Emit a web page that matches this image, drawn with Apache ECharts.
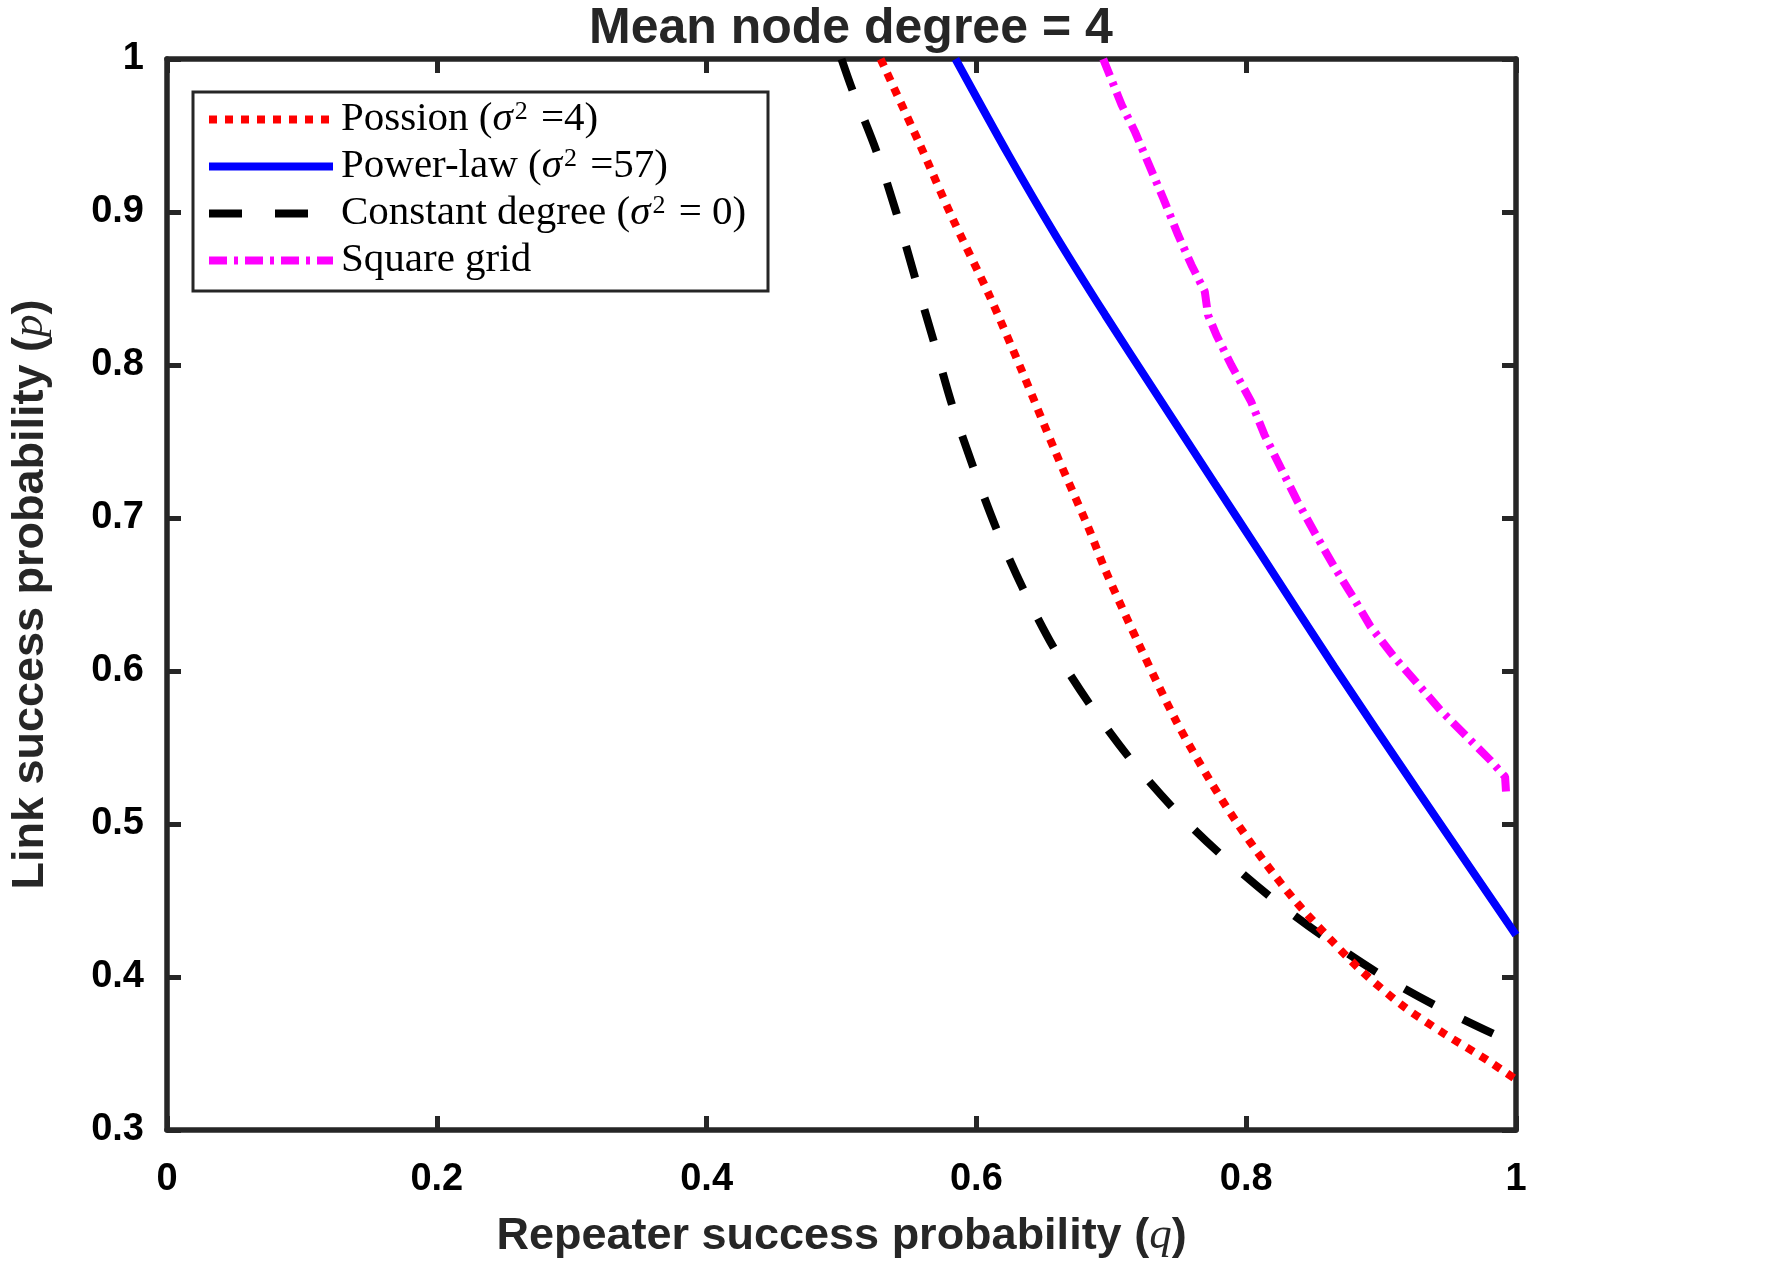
<!DOCTYPE html>
<html>
<head>
<meta charset="utf-8">
<script src="https://cdn.jsdelivr.net/npm/echarts@6/dist/echarts.min.js"></script>
<style>
html,body{margin:0;padding:0;background:#fff;}
#chart{width:1766px;height:1266px;}
</style>
</head>
<body>
<div id="chart"></div>
<script>
// ---- data ----
const seriesNames = ['Possion', 'Power-law', 'Constant degree', 'Square grid'];

const poissonQ = [0.529, 0.5577, 0.5823, 0.6094, 0.634, 0.6585, 0.6832, 0.6955, 0.7213, 0.7483, 0.7729, 0.7926, 0.8135, 0.8369, 0.8652, 0.8874, 0.9168, 0.9464, 0.9784, 1.0];
const poissonP = [1.0, 0.9449, 0.8959, 0.8458, 0.7956, 0.7434, 0.6933, 0.666, 0.6159, 0.5669, 0.5288, 0.5015, 0.4754, 0.4492, 0.4220, 0.4024, 0.3807, 0.3632, 0.3458, 0.333];

const powerQ = [0.5845, 0.624, 0.6585, 0.6955, 0.7323, 0.7767, 0.811, 0.8652, 0.9267, 1.0];
const powerP = [1.0, 0.937, 0.885, 0.8327, 0.7826, 0.7225, 0.6762, 0.6028, 0.5222, 0.4275];

const constQ = [0.500, 0.508, 0.5258, 0.541, 0.5548, 0.5686, 0.5823, 0.5983, 0.6157, 0.636, 0.659, 0.6861, 0.7156, 0.7483, 0.7835, 0.8214, 0.8608, 0.9021, 0.9444, 0.9887, 1.0];
const constP = [1.0, 0.980, 0.9399, 0.8985, 0.8562, 0.8148, 0.7729, 0.7316, 0.6911, 0.6512, 0.6126, 0.5756, 0.5408, 0.5081, 0.4782, 0.4499, 0.4242, 0.4002, 0.3795, 0.3606, 0.3567];

const gridQ = [0.694, 0.7077, 0.7175, 0.7385, 0.7495, 0.7594, 0.7693, 0.7717, 0.7779, 0.7889, 0.8037, 0.8136, 0.8258, 0.8381, 0.8517, 0.8652, 0.8775, 0.8922, 0.9095, 0.9267, 0.9439, 0.9636, 0.9808, 0.9919, 0.9926];
const gridP = [1.0, 0.970, 0.9525, 0.909, 0.885, 0.8654, 0.848, 0.8327, 0.8196, 0.800, 0.776, 0.7542, 0.7325, 0.7107, 0.6889, 0.6682, 0.6508, 0.629, 0.6094, 0.592, 0.5745, 0.5571, 0.5418, 0.5309, 0.5211];

const xTickLabels = ['0', '0.2', '0.4', '0.6', '0.8', '1'];
const yTickLabels = ['0.3', '0.4', '0.5', '0.6', '0.7', '0.8', '0.9', '1'];

const legendText = {
  'Possion': 'Possion ({s|σ}{sup|2} =4)',
  'Power-law': 'Power-law ({s|σ}{sup|2} =57)',
  'Constant degree': 'Constant degree ({s|σ}{sup|2} = 0)',
  'Square grid': 'Square grid'
};

function pairs(q, p) { return q.map((v, i) => [v, p[i]]); }

const axisColor = '#262626';
const sans = 'Liberation Sans';
const serif = 'Liberation Serif';

const chart = echarts.init(document.getElementById('chart'), null, {renderer: 'canvas'});

const baseX = {
  type: 'value', min: 0, max: 1, interval: 0.2,
  axisLine: {show: true, onZero: false, lineStyle: {color: axisColor, width: 5.5}},
  axisTick: {show: true, inside: true, length: 14, lineStyle: {color: axisColor, width: 5}},
  splitLine: {show: false}
};
const baseY = {
  type: 'value', min: 0.3, max: 1, interval: 0.1,
  axisLine: {show: true, onZero: false, lineStyle: {color: axisColor, width: 5.5}},
  axisTick: {show: true, inside: true, length: 14, lineStyle: {color: axisColor, width: 5}},
  splitLine: {show: false}
};

const option = {
  backgroundColor: '#ffffff',
  animation: false,
  title: {
    text: 'Mean node degree = 4',
    left: 589, top: 4, padding: 0,
    textStyle: {fontFamily: sans, fontWeight: 'bold', fontSize: 50, color: axisColor}
  },
  grid: {left: 161, right: 250, top: 59, bottom: 136, containLabel: false},
  legend: {
    left: 193, top: 92, orient: 'vertical',
    data: seriesNames,
    itemWidth: 124, itemHeight: 41, itemGap: 6,
    padding: [7, 14, 10, 12],
    borderColor: axisColor, borderWidth: 3, borderRadius: 0,
    backgroundColor: '#ffffff',
    selectedMode: false,
    itemStyle: {opacity: 0},
    lineStyle: {width: 8},
    formatter: name => legendText[name],
    textStyle: {
      fontFamily: serif, fontSize: 41, color: '#000', lineHeight: 41, width: 413,
      padding: [0, 0, 0, 3],
      rich: {
        s: {fontFamily: serif, fontStyle: 'italic', fontSize: 41, lineHeight: 41},
        sup: {fontFamily: serif, fontSize: 26, lineHeight: 23, verticalAlign: 'top', padding: [0, 3, 0, 2]}
      }
    }
  },
  xAxis: [
    Object.assign({}, baseX, {
      position: 'bottom',
      name: 'Repeater success probability ({q|q})',
      nameLocation: 'middle', nameGap: 84,
      nameTextStyle: {
        fontFamily: sans, fontWeight: 'bold', fontSize: 45, color: axisColor,
        rich: {q: {fontFamily: serif, fontStyle: 'italic', fontWeight: 'normal', fontSize: 45, color: axisColor}}
      },
      axisLabel: {
        show: true, margin: 31, fontFamily: sans, fontWeight: 'bold', fontSize: 38, color: '#000',
        formatter: (v, i) => xTickLabels[i]
      }
    }),
    Object.assign({}, baseX, {position: 'top', axisLabel: {show: false}})
  ],
  yAxis: [
    Object.assign({}, baseY, {
      position: 'left',
      name: 'Link success probability ({p|p})',
      nameLocation: 'middle', nameGap: 114, nameRotate: 90,
      nameTextStyle: {
        fontFamily: sans, fontWeight: 'bold', fontSize: 45, color: axisColor,
        rich: {p: {fontFamily: serif, fontStyle: 'italic', fontWeight: 'normal', fontSize: 45, color: axisColor}}
      },
      axisLabel: {
        show: true, margin: 23, fontFamily: sans, fontWeight: 'bold', fontSize: 38, color: '#000',
        formatter: (v, i) => yTickLabels[i]
      }
    }),
    Object.assign({}, baseY, {position: 'right', axisLabel: {show: false}})
  ],
  series: [
    {
      name: 'Possion', type: 'line', xAxisIndex: 0, yAxisIndex: 0,
      data: pairs(poissonQ, poissonP), showSymbol: false, symbol: 'none', smooth: 0.3,
      lineStyle: {color: '#ff0000', width: 8, type: [8, 8], cap: 'butt'},
      itemStyle: {color: '#ff0000'}, z: 4
    },
    {
      name: 'Power-law', type: 'line', xAxisIndex: 0, yAxisIndex: 0,
      data: pairs(powerQ, powerP), showSymbol: false, symbol: 'none', smooth: 0.3,
      lineStyle: {color: '#0000ff', width: 8, type: 'solid'},
      itemStyle: {color: '#0000ff'}, z: 3
    },
    {
      name: 'Constant degree', type: 'line', xAxisIndex: 0, yAxisIndex: 0,
      data: pairs(constQ, constP), showSymbol: false, symbol: 'none', smooth: 0.3,
      lineStyle: {color: '#000000', width: 8, type: [33, 33], cap: 'butt'},
      itemStyle: {color: '#000000'}, z: 3
    },
    {
      name: 'Square grid', type: 'line', xAxisIndex: 0, yAxisIndex: 0,
      data: pairs(gridQ, gridP), showSymbol: false, symbol: 'none',
      lineStyle: {color: '#ff00ff', width: 8, type: [18, 7, 4, 7], cap: 'butt'},
      itemStyle: {color: '#ff00ff'}, z: 3
    }
  ]
};
chart.setOption(option);
</script>
</body>
</html>
